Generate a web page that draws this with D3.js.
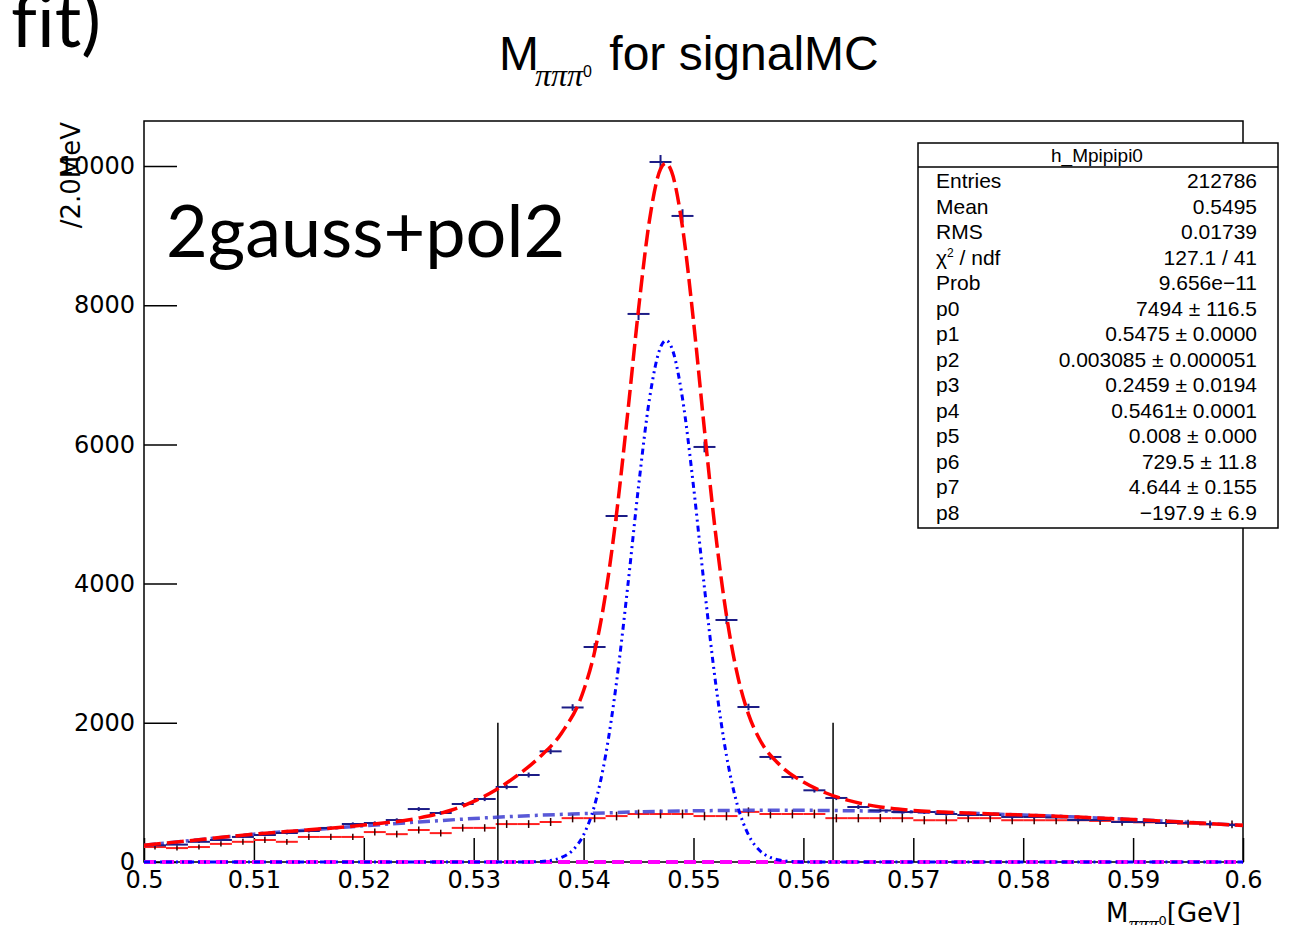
<!DOCTYPE html>
<html>
<head>
<meta charset="utf-8">
<script src="https://cdn.jsdelivr.net/npm/d3@7"></script>
<style>
  body { margin: 0; background: #fff; }
  svg { display: block; font-family: "Liberation Sans", Arial, sans-serif; }
</style>
</head>
<body>
<svg id="chart" width="1303" height="925"></svg>
<script>
// histogram: 50 bins of 2 MeV between 0.5 and 0.6 GeV
const binLow = 0.5;
const binWidth = 0.002;
const dataCounts = [240, 250, 290, 316, 360, 388, 417, 445, 489, 546,
                    560, 603, 761, 704, 833, 905, 1078, 1250, 1590, 2220,
                    3089, 4971, 7874, 10057, 9282, 5963, 3477, 2227, 1509, 1221,
                    1030, 920, 790, 740, 718, 718, 690, 675, 675, 647,
                    647, 640, 603, 603, 575, 575, 560, 560, 545, 532];
const mcCounts = [215, 200, 215, 260, 290, 316, 290, 360, 360, 360,
                  430, 400, 460, 415, 490, 490, 545, 545, 575, 630,
                  630, 660, 690, 690, 690, 660, 660, 720, 690, 690,
                  690, 630, 630, 630, 630, 600, 600, 630, 630, 600,
                  600, 600, 600, 590, 580, 570, 560, 550, 540, 540];

// fitted curves
const fitX = [0.500, 0.505, 0.510, 0.515, 0.520, 0.525, 0.528, 0.530, 0.532, 0.534, 0.536, 0.538,
              0.540, 0.541, 0.542, 0.543, 0.544, 0.545, 0.546, 0.547, 0.5475, 0.548, 0.549, 0.550,
              0.551, 0.552, 0.553, 0.554, 0.555, 0.556, 0.558, 0.560, 0.562, 0.564, 0.567, 0.570,
              0.575, 0.580, 0.585, 0.590, 0.595, 0.600];
const fitY = [240, 320, 400, 462, 530, 632, 747, 870, 1035, 1247, 1508, 1854,
              2463, 3018, 3851, 5008, 6431, 7943, 9227, 9957, 10041, 9921, 9120, 7771,
              6203, 4733, 3542, 2688, 2125, 1767, 1372, 1148, 995, 888, 791, 741,
              703, 675, 645, 610, 570, 525];
const bkgX = [0.500, 0.505, 0.510, 0.515, 0.520, 0.525, 0.530, 0.535, 0.540, 0.545, 0.550,
              0.555, 0.560, 0.565, 0.570, 0.575, 0.580, 0.585, 0.590, 0.595, 0.600];
const bkgY = [240, 320, 400, 460, 520, 575, 625, 665, 695, 720, 735,
              742, 742, 735, 720, 700, 675, 645, 610, 570, 525];
const sigX = [0.500, 0.535, 0.536, 0.537, 0.538, 0.539, 0.540, 0.541, 0.542, 0.543, 0.544, 0.545,
              0.546, 0.547, 0.5475, 0.548, 0.549, 0.550, 0.551, 0.552, 0.553, 0.554, 0.555, 0.556,
              0.557, 0.558, 0.559, 0.560, 0.600];
const sigY = [0, 0, 7, 23, 65, 168, 390, 814, 1530, 2588, 3935, 5397,
              6659, 7396, 7494, 7396, 6659, 5397, 3935, 2588, 1530, 814, 390, 168,
              65, 23, 7, 0, 0];

const windowEdges = [0.5322, 0.5627];
const windowTop = 2000;

const xMajorTicks = [0.5, 0.51, 0.52, 0.53, 0.54, 0.55, 0.56, 0.57, 0.58, 0.59, 0.6];
const yMajorTicks = [0, 2000, 4000, 6000, 8000, 10000];

const statTitle = "h_Mpipipi0";
const statLabels = ["Entries", "Mean", "RMS", "chi2", "Prob", "p0", "p1", "p2", "p3", "p4", "p5", "p6", "p7", "p8"];
const statValues = ["212786", "0.5495", "0.01739", "127.1 / 41", "9.656e\u221211",
                    "7494 \u00b1 116.5", "0.5475 \u00b1 0.0000", "0.003085 \u00b1 0.000051",
                    "0.2459 \u00b1 0.0194", "0.5461\u00b1 0.0001", "0.008 \u00b1 0.000",
                    "729.5 \u00b1 11.8", "4.644 \u00b1 0.155", "\u2212197.9 \u00b1 6.9"];

const svg = d3.select("#chart");
const W = 1303, H = 925;
const frame = {left: 144, right: 1243, top: 121, bottom: 862};
const rootFont = "DejaVu Sans, sans-serif";

svg.append("rect").attr("width", W).attr("height", H).attr("fill", "#fff");

const x = d3.scaleLinear().domain([0.5, 0.6]).range([frame.left, frame.right]);
const y = d3.scaleLinear().domain([0, 10646]).range([frame.bottom, frame.top]);

svg.append("defs").append("clipPath").attr("id", "plotclip")
  .append("rect")
  .attr("x", frame.left).attr("y", frame.top - 2)
  .attr("width", frame.right - frame.left).attr("height", frame.bottom - frame.top + 4);

// axes (ticks pointing inside the frame)
const gx = svg.append("g").attr("transform", `translate(0,${frame.bottom})`);
gx.call(d3.axisBottom(x).ticks(50).tickSize(-11).tickFormat(""));
gx.call(d3.axisBottom(x).tickValues(xMajorTicks).tickSize(-24).tickPadding(9)
  .tickFormat(d => String(d)));
gx.selectAll(".domain").remove();
gx.selectAll("line").attr("stroke", "#000").attr("stroke-width", 1.5);
gx.selectAll("text").attr("font-size", 24).attr("fill", "#000")
  .attr("font-family", rootFont);

const gy = svg.append("g").attr("transform", `translate(${frame.left},0)`);
gy.call(d3.axisLeft(y).ticks(21).tickSize(-18).tickFormat(""));
gy.call(d3.axisLeft(y).tickValues(yMajorTicks).tickSize(-33).tickPadding(9)
  .tickFormat(d3.format("d")));
gy.selectAll(".domain").remove();
gy.selectAll("line").attr("stroke", "#000").attr("stroke-width", 1.5);
gy.selectAll("text").attr("font-size", 24).attr("fill", "#000")
  .attr("font-family", rootFont);

svg.append("rect")
  .attr("x", frame.left).attr("y", frame.top)
  .attr("width", frame.right - frame.left).attr("height", frame.bottom - frame.top)
  .attr("fill", "none").attr("stroke", "#000").attr("stroke-width", 1.5);

const plot = svg.append("g").attr("clip-path", "url(#plotclip)");

const bins = dataCounts.map((v, i) => ({
  lo: binLow + i * binWidth,
  hi: binLow + (i + 1) * binWidth,
  c: binLow + (i + 0.5) * binWidth,
  data: v,
  mc: mcCounts[i]
}));

// MC reference histogram (thin red with error ticks)
plot.append("g").selectAll("line").data(bins).join("line")
  .attr("x1", d => x(d.lo)).attr("x2", d => x(d.hi))
  .attr("y1", d => y(d.mc)).attr("y2", d => y(d.mc))
  .attr("stroke", "#ff2020").attr("stroke-width", 2);
plot.append("g").selectAll("line").data(bins).join("line")
  .attr("x1", d => x(d.c)).attr("x2", d => x(d.c))
  .attr("y1", d => y(d.mc - 2.4 * Math.sqrt(d.mc))).attr("y2", d => y(d.mc + 2.4 * Math.sqrt(d.mc)))
  .attr("stroke", "#300").attr("stroke-width", 1.5);

// signal window markers
plot.append("g").selectAll("line").data(windowEdges).join("line")
  .attr("x1", d => x(d)).attr("x2", d => x(d))
  .attr("y1", y(0)).attr("y2", y(windowTop))
  .attr("stroke", "#000").attr("stroke-width", 1.5);

const line = d3.line().curve(d3.curveMonotoneX);

// zero line
plot.append("path")
  .attr("d", line([[0.5, 0], [0.6, 0]].map(p => [x(p[0]), y(p[1])])))
  .attr("stroke", "#ff00ff").attr("stroke-width", 4).attr("fill", "none")
  .attr("stroke-dasharray", "12,6");

// polynomial background
plot.append("path")
  .attr("d", line(bkgX.map((v, i) => [x(v), y(bkgY[i])])))
  .attr("stroke", "#3c3cd0").attr("stroke-opacity", 0.85).attr("stroke-width", 3.5).attr("fill", "none")
  .attr("stroke-dasharray", "12,5,3,5");

// narrow gaussian
plot.append("path")
  .attr("d", line(sigX.map((v, i) => [x(v), y(sigY[i])])))
  .attr("stroke", "#0000ff").attr("stroke-width", 3).attr("fill", "none")
  .attr("stroke-dasharray", "6,4,2,4,2,4");

// data points
const navy = "#1c1c86";
plot.append("g").selectAll("line").data(bins).join("line")
  .attr("x1", d => x(d.lo)).attr("x2", d => x(d.hi))
  .attr("y1", d => y(d.data)).attr("y2", d => y(d.data))
  .attr("stroke", navy).attr("stroke-width", 2);
plot.append("g").selectAll("line").data(bins).join("line")
  .attr("x1", d => x(d.c)).attr("x2", d => x(d.c))
  .attr("y1", d => y(d.data - Math.sqrt(d.data))).attr("y2", d => y(d.data + Math.sqrt(d.data)))
  .attr("stroke", navy).attr("stroke-width", 2);

// total fit
plot.append("path")
  .attr("d", line(fitX.map((v, i) => [x(v), y(fitY[i])])))
  .attr("stroke", "#ff0000").attr("stroke-width", 3.5).attr("fill", "none")
  .attr("stroke-dasharray", "17,6");

// title
const title = svg.append("text").attr("x", 499).attr("y", 70).attr("font-size", 48).attr("fill", "#000");
title.append("tspan").text("M");
title.append("tspan").attr("dy", 16).attr("dx", -4).attr("font-size", 32)
  .attr("font-family", "Liberation Serif, serif").attr("font-style", "italic").text("\u03c0\u03c0\u03c0");
title.append("tspan").attr("dy", -9).attr("font-size", 16).text("0");
title.append("tspan").attr("dy", -7).attr("dx", 4).text(" for signalMC");

// axis titles
const xt = svg.append("text").attr("x", 1241).attr("y", 922).attr("text-anchor", "end")
  .attr("font-size", 26).attr("font-family", rootFont).attr("fill", "#000");
xt.append("tspan").text("M");
xt.append("tspan").attr("dy", 9).attr("font-size", 20)
  .attr("font-family", "Liberation Serif, serif").attr("font-style", "italic").text("\u03c0\u03c0\u03c0");
xt.append("tspan").attr("dy", -6).attr("font-size", 13).text("0");
xt.append("tspan").attr("dy", -3).text("[GeV]");

svg.append("text").attr("transform", "translate(80,122) rotate(-90)")
  .attr("text-anchor", "end").attr("font-size", 26).attr("font-family", rootFont)
  .attr("fill", "#000").text("/2.0MeV");

// stats box
const box = {x: 918, y: 143, w: 360, h: 385};
svg.append("rect").attr("x", box.x).attr("y", box.y).attr("width", box.w).attr("height", box.h)
  .attr("fill", "#fff").attr("stroke", "#000").attr("stroke-width", 1.5);
svg.append("line").attr("x1", box.x).attr("x2", box.x + box.w).attr("y1", 167).attr("y2", 167)
  .attr("stroke", "#000").attr("stroke-width", 1.5);
svg.append("text").attr("x", 1097).attr("y", 162).attr("text-anchor", "middle")
  .attr("font-size", 19).text(statTitle);

const rowY = i => 188 + i * 25.5;
statLabels.forEach((lab, i) => {
  const t = svg.append("text").attr("x", 936).attr("y", rowY(i)).attr("font-size", 21);
  if (lab === "chi2") {
    t.append("tspan").text("\u03c7");
    t.append("tspan").attr("dy", -8).attr("font-size", 12).text("2");
    t.append("tspan").attr("dy", 8).text(" / ndf");
  } else {
    t.text(lab);
  }
  svg.append("text").attr("x", 1257).attr("y", rowY(i)).attr("text-anchor", "end")
    .attr("font-size", 21).text(statValues[i]);
});

// slide annotations
svg.append("text").attr("x", 166).attr("y", 257).attr("font-family", "Lato, 'Open Sans', sans-serif")
  .attr("font-size", 72).attr("fill", "#000").text("2gauss+pol2");
svg.append("text").attr("x", 11).attr("y", 47).attr("font-family", "Lato, 'Open Sans', sans-serif")
  .attr("font-size", 74).attr("fill", "#000").style("font-variant-ligatures", "none").text("fit)");
</script>
</body>
</html>
